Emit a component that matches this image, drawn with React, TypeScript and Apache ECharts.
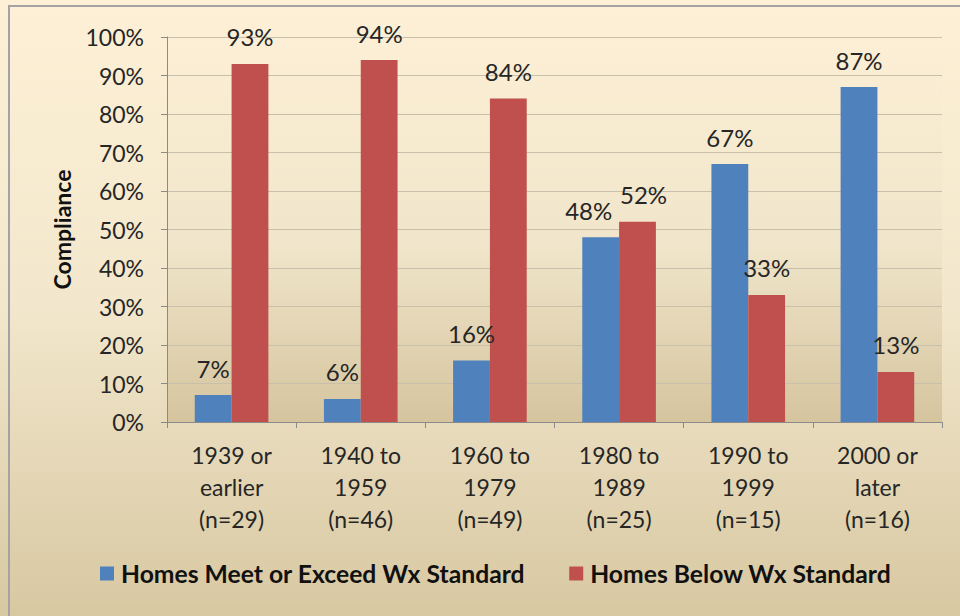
import React, { useEffect, useRef } from "react";
import * as echarts from "echarts";

const categories = [
  "1939 or\nearlier\n(n=29)",
  "1940 to\n1959\n(n=46)",
  "1960 to\n1979\n(n=49)",
  "1980 to\n1989\n(n=25)",
  "1990 to\n1999\n(n=15)",
  "2000 or\nlater\n(n=16)",
];
const meetValues = [7, 6, 16, 48, 67, 87];
const belowValues = [93, 94, 84, 52, 33, 13];
const seriesNames = ["Homes Meet or Exceed Wx Standard", "Homes Below Wx Standard"];
const FONT = "Lato, 'Open Sans', sans-serif";
const TXT = "#262626";

// horizontal nudges for labels that would collide (category index -> px)
const meetLabelShift: Record<number, number> = { 3: -12 };
const belowLabelShift: Record<number, number> = { 3: 6 };

function toItems(values: number[], shift: Record<number, number>) {
  return values.map((v, i) =>
    shift[i] !== undefined ? { value: v, label: { offset: [shift[i], 0] } } : v
  );
}

export default function App() {
  const ref = useRef<HTMLDivElement>(null);
  useEffect(() => {
    if (!ref.current) return;
    const chart = echarts.init(ref.current, undefined, { renderer: "svg" });
    const label = {
      show: true,
      position: "top",
      distance: 15,
      formatter: "{c}%",
      fontFamily: FONT,
      fontSize: 24,
      color: TXT,
    };
    chart.setOption({
      animation: false,
      backgroundColor: new echarts.graphic.LinearGradient(0, 0, 0, 1, [
        { offset: 0, color: "#FDF0D6" },
        { offset: 0.5, color: "#F2E7CC" },
        { offset: 1, color: "#D8C8A2" },
      ]),
      textStyle: { fontFamily: FONT },
      graphic: [
        {
          type: "rect",
          shape: { x: 9, y: 6, width: 1000, height: 700 },
          style: { fill: "none", stroke: "#A3A3A3", lineWidth: 2 },
          silent: true,
          z: 100,
        },
      ],
      grid: {
        left: 167,
        right: 18,
        top: 37,
        bottom: 194,
        show: true,
        borderWidth: 0,
        backgroundColor: new echarts.graphic.LinearGradient(0, 0, 0, 1, [
          { offset: 0, color: "#FCEFD5" },
          { offset: 0.55, color: "#F0E5CA" },
          { offset: 1, color: "#D5C49E" },
        ]),
      },
      legend: {
        bottom: 25,
        left: 95,
        itemWidth: 14,
        itemHeight: 14,
        itemGap: 44,
        icon: "rect",
        textStyle: { fontFamily: FONT, fontSize: 24.7, fontWeight: "bold", color: "#111", padding: [0, 0, 0, 2] },
        data: seriesNames,
      },
      xAxis: {
        type: "category",
        data: categories,
        axisLine: { lineStyle: { color: "#8A8A8A", width: 1 } },
        axisTick: { show: true, length: 6, lineStyle: { color: "#8A8A8A" } },
        axisLabel: {
          margin: 17,
          fontFamily: FONT,
          fontSize: 23,
          lineHeight: 32,
          color: TXT,
          interval: 0,
        },
      },
      yAxis: {
        type: "value",
        min: 0,
        max: 100,
        interval: 10,
        name: "Compliance",
        nameLocation: "middle",
        nameGap: 94,
        nameTextStyle: { fontFamily: FONT, fontSize: 23, fontWeight: "bold", color: "#111" },
        axisLine: { show: true, lineStyle: { color: "#8A8A8A", width: 1 } },
        axisTick: { show: true, length: 6, lineStyle: { color: "#8A8A8A" } },
        axisLabel: {
          formatter: "{value}%",
          margin: 23,
          fontFamily: FONT,
          fontSize: 23,
          color: TXT,
        },
        splitLine: { lineStyle: { color: "#C9C0AC", width: 1 } },
      },
      series: [
        {
          name: seriesNames[0],
          type: "bar",
          data: toItems(meetValues, meetLabelShift),
          barGap: "0%",
          barCategoryGap: "43%",
          itemStyle: { color: "#4F81BD" },
          label,
        },
        {
          name: seriesNames[1],
          type: "bar",
          data: toItems(belowValues, belowLabelShift),
          barGap: "0%",
          barCategoryGap: "43%",
          itemStyle: { color: "#C0504D" },
          label,
        },
      ],
    });
    return () => chart.dispose();
  }, []);
  return (
    <div
      ref={ref}
      style={{ position: "fixed", left: 0, top: 0, width: 960, height: 616 }}
    />
  );
}
